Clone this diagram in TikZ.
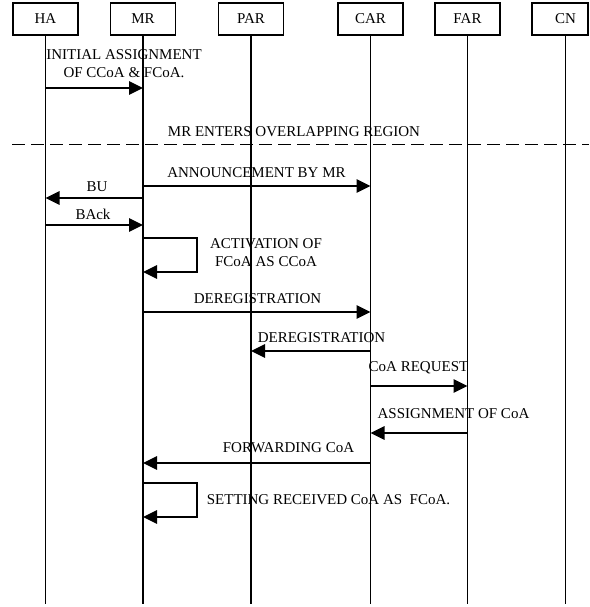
\documentclass[tikz,border=0pt]{standalone}
\usepackage{fontspec}
\setmainfont{Liberation Serif}
\usetikzlibrary{arrows.meta}
\begin{document}
\begin{tikzpicture}[x=1pt,y=-1pt,
  every node/.style={font=\fontsize{15}{18}\selectfont, inner sep=0pt},
  actor/.style={draw, line width=1.4pt, minimum width=65pt, minimum height=32pt},
  life/.style={line width=1.3pt},
  msg/.style={line width=1.4pt, -{Triangle[length=14pt,width=13.5pt]}},
  lbl/.style={align=center}]
\useasboundingbox (0,0) rectangle (589,607);
% actors
\node[actor] (HA)  at (45.5,19) {HA};
\node[actor] (MR)  at (143,19)  {MR};
\node[actor] (PAR) at (251,19)  {PAR};
\node[actor] (CAR) at (370.5,19) {CAR};
\node[actor] (FAR) at (467.5,19) {FAR};
\node[actor, minimum width=56pt] (CNbox) at (560,19) {};
\node (CN) at (565.5,19) {CN};
% lifelines
\coordinate (HAe)  at (45.5,604);
\coordinate (MRe)  at (143,604);
\coordinate (PARe) at (251,604);
\coordinate (CARe) at (370.5,604);
\coordinate (FARe) at (467.5,604);
\coordinate (CNe)  at (565.5,604);
\draw[life] (HA.south) -- (HAe);
\draw[life] (MR.south) -- (MRe);
\draw[life] (PAR.south) -- (PARe);
\draw[life] (CAR.south) -- (CARe);
\draw[life] (FAR.south) -- (FARe);
\draw[life] (CN |- CNbox.south) -- (CNe);
% message end points
\coordinate (m1a) at (45.5,88);  \coordinate (m1b) at (143,88);
\coordinate (d1)  at (12,144.5); \coordinate (d2)  at (589,144.5);
\coordinate (m2a) at (143,186);  \coordinate (m2b) at (370.5,186);
\coordinate (m3a) at (143,198);  \coordinate (m3b) at (45.5,198);
\coordinate (m4a) at (45.5,225); \coordinate (m4b) at (143,225);
\coordinate (s1a) at (143,238);  \coordinate (s1b) at (197,238);
\coordinate (s1c) at (197,272);  \coordinate (s1d) at (143,272);
\coordinate (m5a) at (143,312);  \coordinate (m5b) at (370.5,312);
\coordinate (m6a) at (370.5,351); \coordinate (m6b) at (251,351);
\coordinate (m7a) at (370.5,386); \coordinate (m7b) at (467.5,386);
\coordinate (m8a) at (467.5,433); \coordinate (m8b) at (370.5,433);
\coordinate (m9a) at (370.5,463); \coordinate (m9b) at (143,463);
\coordinate (s2a) at (143,483);  \coordinate (s2b) at (197,483);
\coordinate (s2c) at (197,517);  \coordinate (s2d) at (143,517);
% messages
\draw[msg] (m1a) -- (m1b);
\node[lbl] (t1) at (124,64) {INITIAL ASSIGNMENT\\OF CCoA \& FCoA.};
\draw[line width=1.4pt, dash pattern=on 13pt off 6pt] (d1) -- (d2);
\node (t2) at (294,132) {MR ENTERS OVERLAPPING REGION};
\draw[msg] (m2a) -- (m2b);
\node (t3) at (256.5,173) {ANNOUNCEMENT BY MR};
\draw[msg] (m3a) -- (m3b);
\node (t4) at (97,187) {BU};
\draw[msg] (m4a) -- (m4b);
\node (t5) at (93,214) {BAck};
\draw[msg] (s1a) -- (s1b) -- (s1c) -- (s1d);
\node[lbl] (t6) at (266,253) {ACTIVATION OF\\FCoA AS CCoA};
\draw[msg] (m5a) -- (m5b);
\node (t7) at (257.5,299) {DEREGISTRATION};
\draw[msg] (m6a) -- (m6b);
\node (t8) at (321.5,338) {DEREGISTRATION};
\draw[msg] (m7a) -- (m7b);
\node (t9) at (418.5,368) {CoA REQUEST};
\draw[msg] (m8a) -- (m8b);
\node (t10) at (453.5,414) {ASSIGNMENT OF CoA};
\draw[msg] (m9a) -- (m9b);
\node (t11) at (288.5,448) {FORWARDING CoA};
\draw[msg] (s2a) -- (s2b) -- (s2c) -- (s2d);
\node (t12) at (328.5,500) {SETTING RECEIVED CoA AS\ \ FCoA.};
\end{tikzpicture}
\end{document}
